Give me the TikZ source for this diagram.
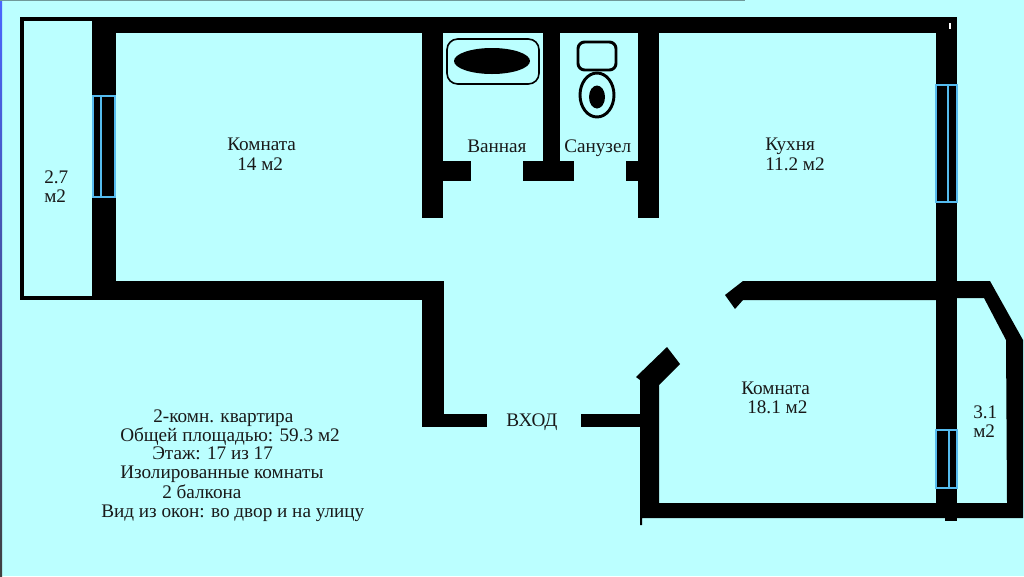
\documentclass[tikz,border=0pt]{standalone}
\usepackage{fontspec}
\setmainfont{Liberation Serif}
\definecolor{sky}{HTML}{BBFFFF}
\definecolor{glass}{HTML}{55BBEE}
\begin{document}
\begin{tikzpicture}[x=.75pt,y=-.75pt]
    \tikzstyle{wall}=[fill=black,draw=none]
    \tikzstyle{pane}=[draw=glass,line width=1.9pt]
    \tikzstyle{roomtext}=[anchor=base west,inner sep=0pt,font=\fontsize{14.4}{16}\selectfont,text=black!90]
    \useasboundingbox[fill=sky] (0,0) rectangle (1024,576);
    % screenshot edges
    \fill[top color=blue!60!sky,bottom color=black!75] (0,0) rectangle (2,576);
    \fill[black!40!sky] (0,0) rectangle (745,1);
    % balcony left
    \draw[line width=3pt] (22,19) rectangle (100,298);
    \fill[sky] (24,21) rectangle (92,296);
    % outer walls
    \path[wall] (92,17) rectangle (957,33);
    \path[wall] (92,17) rectangle (116,300);
    \path[wall] (936,17) rectangle (957,503);
    \path[wall] (945,503) rectangle (957,521);
    \path[wall] (92,281) rectangle (444,300);
    \path[wall] (422,281) rectangle (444,427);
    \path[wall] (444,414) rectangle (487,427);
    \path[wall] (581,414) rectangle (640,427);
    % inner walls
    \path[wall] (422,33) rectangle (443,218);
    \path[wall] (443,161) rectangle (471,181);
    \path[wall] (543,33) rectangle (560,161);
    \path[wall] (523,161) rectangle (574,181);
    \path[wall] (638,33) rectangle (659,218);
    \path[wall] (626,161) rectangle (638,181);
    % room walls with door ends
    \path[wall] (725,295) -- (743,281) -- (990,281) -- (1023,340) -- (1023,518) -- (957,518)
      -- (957,503) -- (1007,503) -- (1006,340) -- (984,298) -- (957,298) -- (936,300)
      -- (743,300) -- (735,309) -- cycle;
    \path[wall] (636,377) -- (667,347) -- (680,364) -- (659,385) -- (659,503) -- (945,503)
      -- (945,518) -- (642,518) -- (642,525) -- (640,525) -- (640,380) -- cycle;
    \fill[white] (949,23) rectangle (951,29);
    % windows
    \draw[pane] (93,96) rectangle (115,197);
    \draw[pane] (101,96) -- (101,197);
    \draw[pane] (936,85) rectangle (957,202);
    \draw[pane] (948,85) -- (948,202);
    \draw[pane] (936,430) rectangle (957,488);
    \draw[pane] (949,430) -- (949,488);
    % bath
    \draw[line width=1.2pt,rounded corners=8pt] (447,39) rectangle (539,84);
    \fill (492,61) ellipse (38 and 13);
    % toilet
    \draw[line width=2.2pt,rounded corners=5pt] (578,42) rectangle (616,70);
    \draw[line width=2.2pt] (597,95) ellipse (17 and 22);
    \fill (597,97) ellipse (8 and 11.5);
    % labels
    \node[roomtext] (balconyleft) at (44,183) {2.7};
    \node[roomtext] (balconyleftarea) at (44,202) {м2};
    \node[roomtext] (room) at (227,150) {Комната};
    \node[roomtext] (roomarea) at (237,170) {14 м2};
    \node[roomtext] (bath) at (467,152) {Ванная};
    \node[roomtext] (wc) at (564,152) {Санузел};
    \node[roomtext] (kitchen) at (765,150) {Кухня};
    \node[roomtext] (kitchenarea) at (765,170) {11.2 м2};
    \node[roomtext] (bigroom) at (741,394) {Комната};
    \node[roomtext] (bigroomarea) at (747,413) {18.1 м2};
    \node[roomtext] (balconyright) at (973,418) {3.1};
    \node[roomtext] (balconyrightarea) at (973,437) {м2};
    \node[roomtext] (entry) at (506,426) {ВХОД};
    % summary
    \node[roomtext] (flat) at (153,422) {2-комн. квартира};
    \node[roomtext] (total) at (120,441) {Общей площадью: 59.3 м2};
    \node[roomtext] (floor) at (152,459) {Этаж: 17 из 17};
    \node[roomtext] (rooms) at (120,478) {Изолированные комнаты};
    \node[roomtext] (balconies) at (162,498) {2 балкона};
    \node[roomtext] (view) at (101,517) {Вид из окон: во двор и на улицу};
\end{tikzpicture}
\end{document}
